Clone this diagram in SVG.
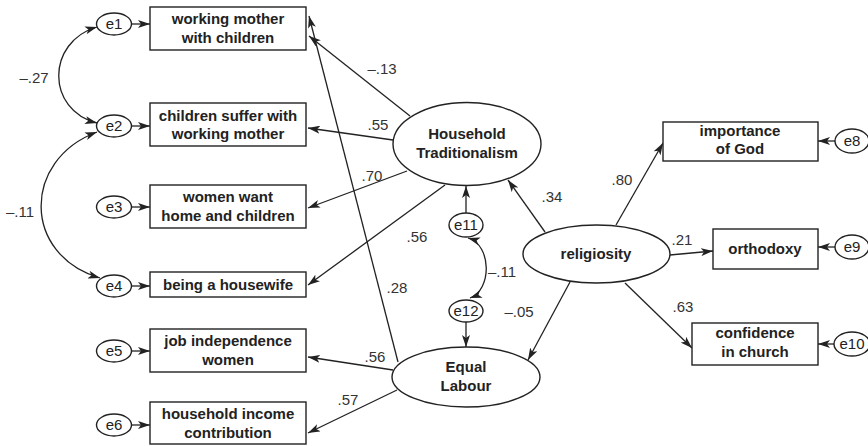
<svg xmlns="http://www.w3.org/2000/svg" width="868" height="446" viewBox="0 0 868 446">
<style>
.bx{fill:#fff;stroke:#222;stroke-width:1.4}
.el{fill:#fff;stroke:#222;stroke-width:1.4}
.t{font-family:"Liberation Sans",Arial,sans-serif;font-size:15px;font-weight:bold;fill:#222;text-anchor:middle}
.e{font-family:"Liberation Sans",Arial,sans-serif;font-size:15px;fill:#222;text-anchor:middle}
.l{font-family:"Liberation Sans",Arial,sans-serif;font-size:15px;fill:#333;text-anchor:middle}
.c{fill:none;stroke:#222;stroke-width:1.3;marker-end:url(#ah)}
.d{fill:none;stroke:#222;stroke-width:1.3;marker-end:url(#ah);marker-start:url(#ah)}
</style>
<defs>
<marker id="ah" viewBox="0 0 12 8" refX="12" refY="4" markerWidth="12" markerHeight="8" markerUnits="userSpaceOnUse" orient="auto-start-reverse">
<path d="M0,0 L12,4 L0,8 L3,4 z" fill="#222"/>
</marker>
</defs>
<rect width="868" height="446" fill="#fff"/>

<g id="connectors">
<line class="c" x1="131" y1="24" x2="150" y2="24"/>
<line class="c" x1="131" y1="126" x2="150" y2="126"/>
<line class="c" x1="131" y1="207" x2="150" y2="207"/>
<line class="c" x1="131" y1="286" x2="150" y2="286"/>
<line class="c" x1="131" y1="351" x2="150" y2="351"/>
<line class="c" x1="131" y1="425" x2="150" y2="425"/>
<path class="d" d="M97,27 C46,42 46,110 97,123"/>
<path class="d" d="M97,132 C22,160 22,255 100,278"/>
<line class="c" x1="410" y1="116" x2="309" y2="36"/>
<line class="c" x1="398" y1="362" x2="309" y2="16"/>
<line class="c" x1="393" y1="140" x2="308" y2="128"/>
<line class="c" x1="407" y1="171" x2="308" y2="208"/>
<line class="c" x1="445" y1="185" x2="308" y2="285"/>
<line class="c" x1="393" y1="370" x2="308" y2="357"/>
<line class="c" x1="397" y1="390" x2="308" y2="433"/>
<line class="c" x1="466" y1="213" x2="466" y2="186"/>
<line class="c" x1="466" y1="322" x2="466" y2="347"/>
<path class="d" d="M468,238 C492,245 492,290 470,298"/>
<line class="c" x1="545" y1="232" x2="508" y2="180"/>
<line class="c" x1="570" y1="282" x2="528" y2="360"/>
<line class="c" x1="616" y1="225" x2="663" y2="143"/>
<line class="c" x1="670" y1="255" x2="713" y2="251"/>
<line class="c" x1="625" y1="283" x2="692" y2="348"/>
<line class="c" x1="835" y1="141" x2="818" y2="141"/>
<line class="c" x1="835" y1="247" x2="818" y2="247"/>
<line class="c" x1="834" y1="344" x2="818" y2="344"/>
</g>

<g id="labels">
<text class="l" x="34" y="83">–.27</text>
<text class="l" x="20" y="217">–.11</text>
<text class="l" x="382" y="74">–.13</text>
<text class="l" x="378" y="130">.55</text>
<text class="l" x="372" y="181">.70</text>
<text class="l" x="417" y="242">.56</text>
<text class="l" x="552" y="202">.34</text>
<text class="l" x="502" y="277">–.11</text>
<text class="l" x="397" y="293">.28</text>
<text class="l" x="519" y="317">–.05</text>
<text class="l" x="375" y="362">.56</text>
<text class="l" x="348" y="405">.57</text>
<text class="l" x="622" y="185">.80</text>
<text class="l" x="682" y="245">.21</text>
<text class="l" x="683" y="312">.63</text>
</g>

<g id="e1"><ellipse class="el" cx="114" cy="24" rx="17.5" ry="11"/><text class="e" x="114" y="29">e1</text></g>
<g id="e2"><ellipse class="el" cx="114" cy="126" rx="17.5" ry="11"/><text class="e" x="114" y="131">e2</text></g>
<g id="e3"><ellipse class="el" cx="114" cy="207" rx="17.5" ry="11"/><text class="e" x="114" y="212">e3</text></g>
<g id="e4"><ellipse class="el" cx="114" cy="286" rx="17.5" ry="11"/><text class="e" x="114" y="291">e4</text></g>
<g id="e5"><ellipse class="el" cx="114" cy="351" rx="17.5" ry="11"/><text class="e" x="114" y="356">e5</text></g>
<g id="e6"><ellipse class="el" cx="114" cy="425" rx="17.5" ry="11"/><text class="e" x="114" y="430">e6</text></g>

<g id="box1"><rect class="bx" x="150" y="7" width="156" height="43"/><text class="t" x="228" y="24">working mother</text><text class="t" x="228" y="43">with children</text></g>
<g id="box2"><rect class="bx" x="150" y="103" width="156" height="43"/><text class="t" x="228" y="121">children suffer with</text><text class="t" x="228" y="139">working mother</text></g>
<g id="box3"><rect class="bx" x="150" y="185" width="156" height="43"/><text class="t" x="228" y="202">women want</text><text class="t" x="228" y="221">home and children</text></g>
<g id="box4"><rect class="bx" x="150" y="272" width="156" height="25"/><text class="t" x="228" y="290">being a housewife</text></g>
<g id="box5"><rect class="bx" x="150" y="329" width="156" height="43"/><text class="t" x="228" y="346">job independence</text><text class="t" x="228" y="365">women</text></g>
<g id="box6"><rect class="bx" x="150" y="402" width="156" height="42"/><text class="t" x="228" y="419">household income</text><text class="t" x="228" y="438">contribution</text></g>

<g id="household"><ellipse class="el" cx="467" cy="144" rx="74" ry="41.5"/><text class="t" x="467" y="139">Household</text><text class="t" x="467" y="158">Traditionalism</text></g>
<g id="equal"><ellipse class="el" cx="466" cy="377" rx="74" ry="30"/><text class="t" x="466" y="372">Equal</text><text class="t" x="466" y="391">Labour</text></g>
<g id="religiosity"><ellipse class="el" cx="596.5" cy="254" rx="73.5" ry="29"/><text class="t" x="596" y="259">religiosity</text></g>
<g id="e11"><ellipse class="el" cx="466" cy="225" rx="17" ry="12"/><text class="e" x="466" y="230">e11</text></g>
<g id="e12"><ellipse class="el" cx="466" cy="311" rx="17" ry="11"/><text class="e" x="466" y="316">e12</text></g>

<g id="box7"><rect class="bx" x="663" y="122" width="155" height="39"/><text class="t" x="740" y="136">importance</text><text class="t" x="740" y="154">of God</text></g>
<g id="box8"><rect class="bx" x="713" y="229" width="105" height="40"/><text class="t" x="765" y="254">orthodoxy</text></g>
<g id="box9"><rect class="bx" x="692" y="323" width="126" height="42"/><text class="t" x="755" y="338">confidence</text><text class="t" x="755" y="357">in church</text></g>
<g id="e8"><ellipse class="el" cx="852" cy="141" rx="17" ry="12"/><text class="e" x="852" y="146">e8</text></g>
<g id="e9"><ellipse class="el" cx="852" cy="247" rx="17" ry="12"/><text class="e" x="852" y="252">e9</text></g>
<g id="e10"><ellipse class="el" cx="852" cy="344" rx="18" ry="12"/><text class="e" x="852" y="349">e10</text></g>
</svg>
